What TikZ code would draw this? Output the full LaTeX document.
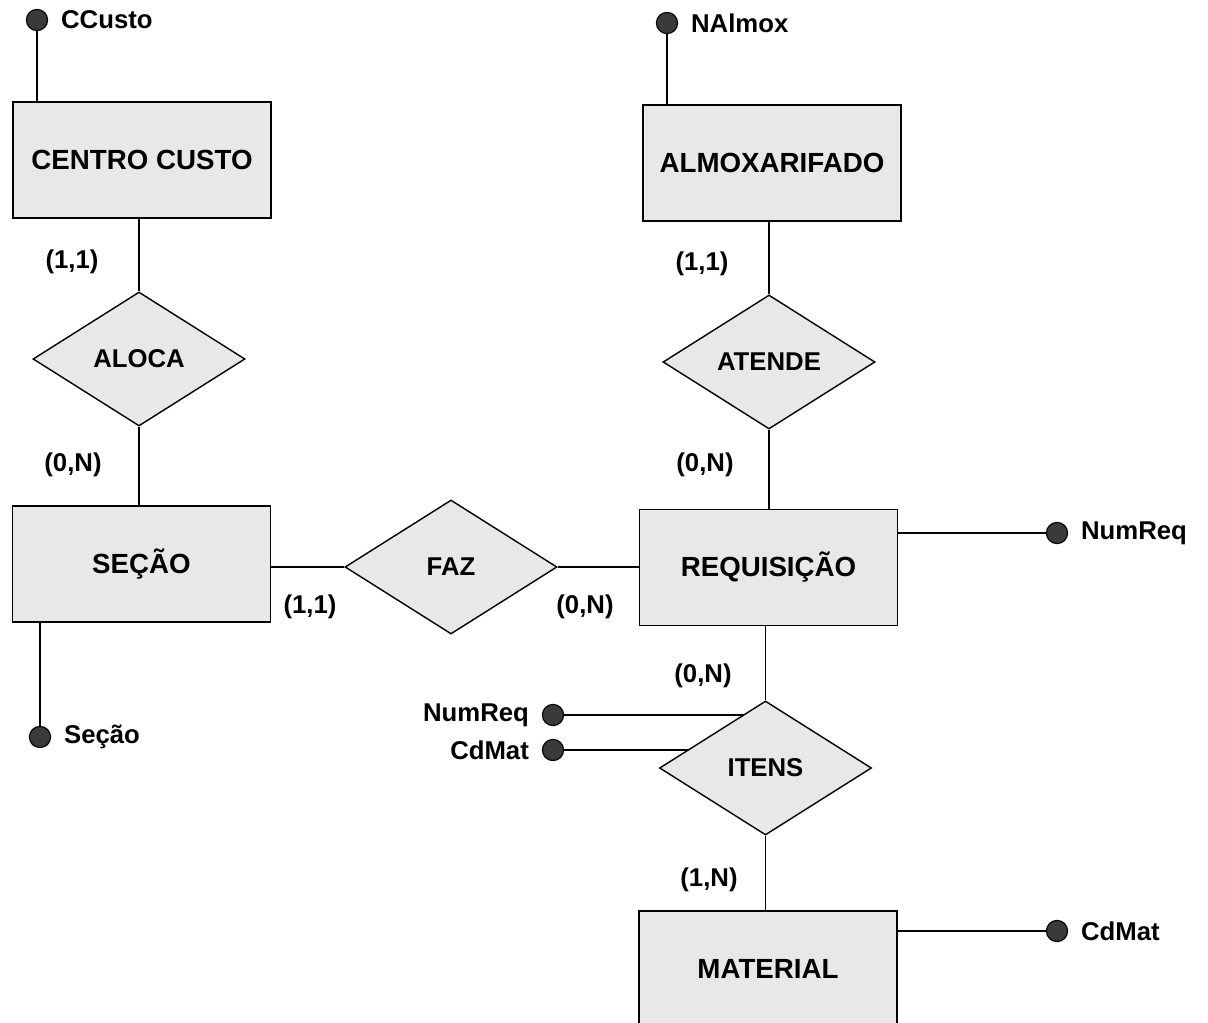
\documentclass[tikz,border=0pt]{standalone}
\usepackage{fontspec}
\setmainfont{Liberation Sans}
\usetikzlibrary{shapes,positioning,calc}
\definecolor{boxgray}{RGB}{232,232,232}
\definecolor{dotgray}{RGB}{58,58,58}
\tikzset{
  entity/.style={draw,line width=1.3pt,fill=boxgray,minimum width=6.45cm,minimum height=2.9cm,font=\fontsize{19.7}{22}\selectfont\bfseries},
  relation/.style={draw,diamond,line width=1pt,fill=boxgray,minimum width=5.3cm,minimum height=3.35cm,inner sep=0pt,font=\fontsize{18.3}{21}\selectfont\bfseries},
  attr/.style={draw,circle,line width=0.8pt,fill=dotgray,inner sep=0pt,minimum size=0.53cm},
  txt/.style={font=\fontsize{18.3}{21}\selectfont\bfseries},
  link/.style={line width=1.2pt}
}

\begin{document}
\begin{tikzpicture}[x=0.025cm,y=-0.025cm]
      \useasboundingbox (0,0) rectangle (1208,1023);
      \node[entity] (centro) at (142,160) {CENTRO CUSTO};
      \node[entity] (almox) at (772,163) {ALMOXARIFADO};
      \node[entity] (secao) at (141.5,564) {SEÇÃO};
      \node[entity] (requis) at (768.5,567.5) {REQUISIÇÃO};
      \node[entity] (material) at (768,969) {MATERIAL};
      \node[relation] (aloca) at (139,359) {ALOCA};
      \node[relation] (atende) at (769,362) {ATENDE};
      \node[relation] (faz) at (451,567) {FAZ};
      \node[relation] (itens) at (765.5,768) {ITENS};
      \node[attr] (ccusto) at (37,20) {};
      \node[attr] (nalmox) at (667,23) {};
      \node[attr] (secaoid) at (40,737) {};
      \node[attr] (numreq) at (1057,533) {};
      \node[attr] (cdmat) at (1057,931) {};
      \node[attr] (itnumreq) at (553,715) {};
      \node[attr] (itcdmat) at (553,750) {};
      \node[txt,right=0.2cm of ccusto] (ccustotxt) {CCusto};
      \node[txt,right=0.2cm of nalmox] (nalmoxtxt) {NAlmox};
      \node[txt,right=0.2cm of secaoid] (secaoidtxt) {Seção};
      \node[txt,right=0.2cm of numreq] (numreqtxt) {NumReq};
      \node[txt,right=0.2cm of cdmat] (cdmattxt) {CdMat};
      \node[txt,left=0.2cm of itnumreq] (itnumreqtxt) {NumReq};
      \node[txt,left=0.2cm of itcdmat] (itcdmattxt) {CdMat};
      \draw[link] (ccusto) -- (ccusto |- centro.north);
      \draw[link] (nalmox) -- (nalmox |- almox.north);
      \draw[link] (secaoid) -- (secaoid |- secao.south);
      \draw[link] (numreq) -- (numreq -| requis.east);
      \draw[link] (cdmat) -- (cdmat -| material.east);
      \coordinate (itedge1) at ($(itens.north)!0.2!(itens.west)$);
      \coordinate (itedge2) at ($(itens.north)!0.72!(itens.west)$);
      \draw[link] (itnumreq) -- (itnumreq -| itedge1);
      \draw[link] (itcdmat) -- (itcdmat -| itedge2);
      \draw[link] (aloca.north) -- (aloca.north |- centro.south);
      \draw[link] (aloca.south) -- (aloca.south |- secao.north);
      \draw[link] (atende.north) -- (atende.north |- almox.south);
      \draw[link] (atende.south) -- (atende.south |- requis.north);
      \draw[link] (faz.west) -- (faz.west -| secao.east);
      \draw[link] (faz.east) -- (faz.east -| requis.west);
      \draw[link] (itens.north) -- (itens.north |- requis.south);
      \draw[link] (itens.south) -- (itens.south |- material.north);
      \node[txt] (card1) at (72,262) {(1,1)};
      \node[txt] (card2) at (73,465) {(0,N)};
      \node[txt] (card3) at (702,264) {(1,1)};
      \node[txt] (card4) at (705,465) {(0,N)};
      \node[txt] (card5) at (310,607) {(1,1)};
      \node[txt] (card6) at (585,607) {(0,N)};
      \node[txt] (card7) at (703,676) {(0,N)};
      \node[txt] (card8) at (709,880) {(1,N)};
    \end{tikzpicture}
\end{document}
